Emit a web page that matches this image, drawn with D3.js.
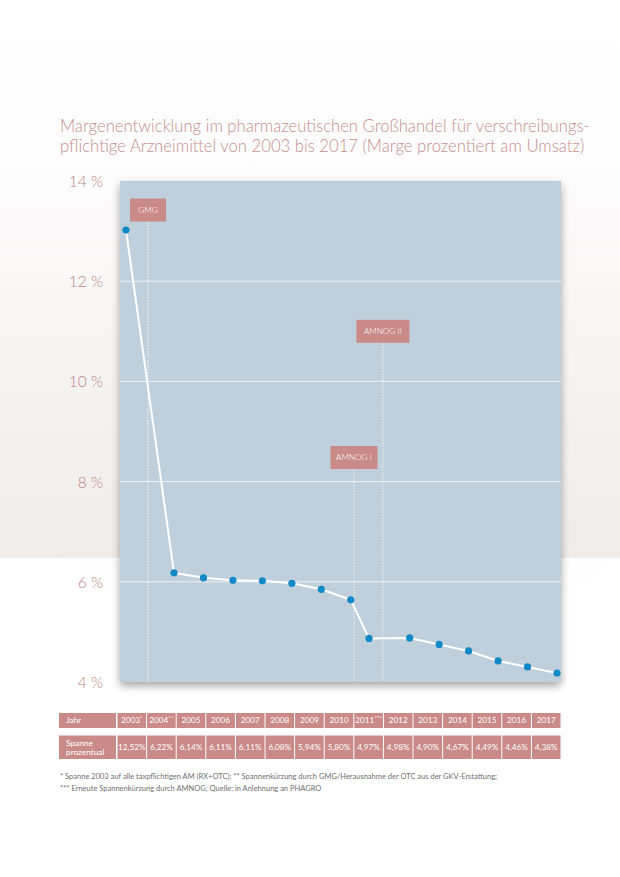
<!DOCTYPE html>
<html><head><meta charset="utf-8">
<script src="https://cdn.jsdelivr.net/npm/d3@7"></script>
<style>
html,body{margin:0;padding:0;background:#fff;}
svg{display:block;}
</style></head>
<body>
<svg id="chart" width="620" height="877"></svg>
<script>
// ---- data ----
const years = ["2003","2004","2005","2006","2007","2008","2009","2010","2011","2012","2013","2014","2015","2016","2017"];
const yearMarks = ["*","**","","","","","","","***","","","","","",""];
// x position of each point (in year units)
const pointYears = [2002.37,2004,2005,2006,2007,2008,2009,2010,2010.62,2012,2013,2014,2015,2016,2017];
// plotted margin values (%)
const plotValues = [13.02,6.18,6.08,6.03,6.02,5.97,5.85,5.64,4.87,4.88,4.75,4.62,4.42,4.30,4.18];
// table values
const tableValues = ["12,52%","6,22%","6,14%","6,11%","6,11%","6,08%","5,94%","5,80%","4,97%","4,98%","4,90%","4,67%","4,49%","4,46%","4,38%"];
const yTicks = [4,6,8,10,12,14];
const eventNames = ["GMG","AMNOG I","AMNOG II"];
const eventYears = [2003.12,2010.11,2011.09];
const eventLevels = [13.42,8.48,11.0];
const titleLines = ["Margenentwicklung im pharmazeutischen Großhandel für verschreibungs-",
                    "pflichtige Arzneimittel von 2003 bis 2017 (Marge prozentiert am Umsatz)"];
const footnotes = ["* Spanne 2003 auf alle taxpflichtigen AM (RX+OTC);  ** Spannenkürzung durch GMG/Herausnahme der OTC aus der GKV-Erstattung;",
                   "*** Erneute Spannenkürzung durch AMNOG; Quelle: in Anlehnung an PHAGRO"];
const rowLabels = ["Jahr", ["Spanne","prozentual"]];

// ---- drawing ----
const svg = d3.select("#chart");
const rose = "#c98a88";
const textRose = "#bf8482";
const font = "Lato, 'Open Sans', sans-serif";

const defs = svg.append("defs");
const bg = defs.append("linearGradient").attr("id","bg").attr("x1",0).attr("y1",0).attr("x2",0).attr("y2",1);
bg.append("stop").attr("offset","0%").attr("stop-color","#ffffff");
bg.append("stop").attr("offset","30%").attr("stop-color","#fdfcfc");
bg.append("stop").attr("offset","100%").attr("stop-color","#efecea");
const sh = defs.append("filter").attr("id","shadow").attr("x","-10%").attr("y","-10%").attr("width","120%").attr("height","130%");
sh.append("feGaussianBlur").attr("in","SourceAlpha").attr("stdDeviation",4);
sh.append("feOffset").attr("dx",0).attr("dy",4).attr("result","b");
sh.append("feComponentTransfer").append("feFuncA").attr("type","linear").attr("slope",0.35);
const m = sh.append("feMerge"); m.append("feMergeNode"); m.append("feMergeNode").attr("in","SourceGraphic");

svg.append("rect").attr("x",0).attr("y",0).attr("width",620).attr("height",558).attr("fill","url(#bg)");
const glow = defs.append("radialGradient").attr("id","glow").attr("cx","50%").attr("cy","0%").attr("r","60%");
glow.append("stop").attr("offset","0%").attr("stop-color","#f3ecea").attr("stop-opacity",0.8);
glow.append("stop").attr("offset","100%").attr("stop-color","#ffffff").attr("stop-opacity",0);
svg.append("rect").attr("x",60).attr("y",558).attr("width",560).attr("height",150).attr("fill","url(#glow)");

// title
svg.append("g").selectAll("text").data(titleLines).join("text")
  .attr("x",60).attr("y",(d,i)=>132+i*20)
  .attr("font-family",font).attr("font-weight",300).attr("font-size",16.7)
  .attr("fill","#c78f8d").text(d=>d);

const plot = {x0:120,x1:561,y0:181,y1:682};
const x = d3.scaleLinear().domain([2004,2017]).range([174,557]);
const y = d3.scaleLinear().domain([4,14]).range([plot.y1,plot.y0]);

svg.append("rect").attr("x",plot.x0).attr("y",plot.y0).attr("width",plot.x1-plot.x0).attr("height",plot.y1-plot.y0)
  .attr("fill","#bfcfdb").attr("filter","url(#shadow)");

// grid
svg.append("g").selectAll("line").data(yTicks.filter(t=>t>4 && t<14)).join("line")
  .attr("x1",plot.x0).attr("x2",plot.x1).attr("y1",d=>y(d)).attr("y2",d=>y(d))
  .attr("stroke","#eef3f7").attr("stroke-width",1);

// y axis
const yAxis = d3.axisLeft(y).tickValues(yTicks).tickSize(0).tickPadding(0).tickFormat(d=>d+" %");
const ya = svg.append("g").attr("transform","translate(103,0)").call(yAxis);
ya.select(".domain").remove();
ya.selectAll("text").attr("font-family",font).attr("font-weight",300).attr("font-size",15.5).attr("fill",textRose).attr("dy","0.36em");

// events
const ev = svg.append("g").selectAll("g").data(eventNames).join("g");
const boxW = [36,47,53];
ev.append("line")
  .attr("x1",(d,i)=>x(eventYears[i])).attr("x2",(d,i)=>x(eventYears[i]))
  .attr("y1",(d,i)=>y(eventLevels[i])+12).attr("y2",plot.y1)
  .attr("stroke","#f4f7fa").attr("stroke-width",1).attr("stroke-dasharray","1.5,1.5");
ev.append("rect")
  .attr("x",(d,i)=>x(eventYears[i])-boxW[i]/2).attr("y",(d,i)=>y(eventLevels[i])-11.5)
  .attr("width",(d,i)=>boxW[i]).attr("height",23).attr("fill",rose);
ev.append("text")
  .attr("x",(d,i)=>x(eventYears[i])).attr("y",(d,i)=>y(eventLevels[i]))
  .attr("dy","0.35em").attr("text-anchor","middle")
  .attr("font-family",font).attr("font-weight",300).attr("font-size",8.2).attr("fill","#fff").text(d=>d);

// line + points
const pts = years.map((yr,i)=>({yr, px:pointYears[i], v:plotValues[i]}));
svg.append("path").datum(pts)
  .attr("d",d3.line().x(d=>x(d.px)).y(d=>y(d.v)))
  .attr("fill","none").attr("stroke","#fff").attr("stroke-width",2);
svg.append("g").selectAll("circle").data(pts).join("circle")
  .attr("cx",d=>x(d.px)).attr("cy",d=>y(d.v)).attr("r",3.6).attr("fill","#1389c8");

// table
const tbl = svg.append("g");
const col0 = {x:59,w:58};
const colX = d3.scaleBand().domain(years).range([117,561]).paddingInner(0);
const rows = [{y:713,h:15},{y:735.5,h:23.5}];
rows.forEach((r,ri)=>{
  tbl.append("rect").attr("x",col0.x).attr("y",r.y).attr("width",col0.w-1).attr("height",r.h).attr("fill",rose);
  const lbl = rowLabels[ri];
  const lines = Array.isArray(lbl)?lbl:[lbl];
  const t = tbl.append("text").attr("x",col0.x+7).attr("font-family",font).attr("font-size",8.3).attr("fill","#fff");
  lines.forEach((l,li)=>t.append("tspan").attr("x",col0.x+7)
     .attr("y", r.y + r.h/2 + (li-(lines.length-1)/2)*9).attr("dy","0.35em").text(l));
  const cells = tbl.append("g").selectAll("g").data(years).join("g");
  cells.append("rect").attr("x",d=>colX(d)+0.5).attr("y",r.y).attr("width",colX.bandwidth()-1).attr("height",r.h).attr("fill",rose);
  const ct = cells.append("text").attr("x",d=>colX(d)+colX.bandwidth()/2).attr("y",r.y+r.h/2).attr("dy","0.35em")
     .attr("text-anchor","middle").attr("font-family",font).attr("font-size",8.2).attr("fill","#fff");
  if(ri===0){
    ct.text(d=>d);
    ct.append("tspan").attr("font-size",6).attr("dy","-0.5em").text((d,i)=>yearMarks[i]);
  } else {
    ct.text((d,i)=>tableValues[i]);
  }
});

// footnotes
svg.append("g").selectAll("text").data(footnotes).join("text")
  .attr("x",60).attr("y",(d,i)=>779+i*11.5)
  .attr("font-family",font).attr("font-size",7.5).attr("fill","#6f6f6f").text(d=>d);
</script>
</body></html>
